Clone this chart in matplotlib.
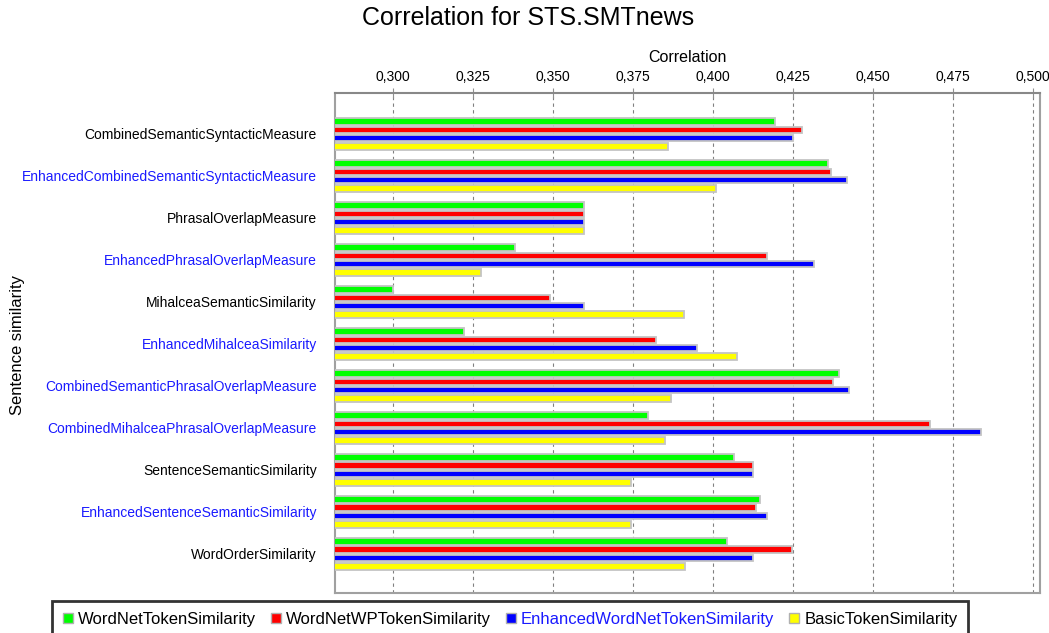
import matplotlib.pyplot as plt
import numpy as np
from matplotlib.patches import Patch
from matplotlib.ticker import FuncFormatter, MultipleLocator

plt.rcParams["font.family"] = ["Liberation Sans", "DejaVu Sans"]

measures = [
    "CombinedSemanticSyntacticMeasure",
    "EnhancedCombinedSemanticSyntacticMeasure",
    "PhrasalOverlapMeasure",
    "EnhancedPhrasalOverlapMeasure",
    "MihalceaSemanticSimilarity",
    "EnhancedMihalceaSimilarity",
    "CombinedSemanticPhrasalOverlapMeasure",
    "CombinedMihalceaPhrasalOverlapMeasure",
    "SentenceSemanticSimilarity",
    "EnhancedSentenceSemanticSimilarity",
    "WordOrderSimilarity",
]
highlighted = [False, True, False, True, False, True, True, True, False, True, False]

series_names = [
    "WordNetTokenSimilarity",
    "WordNetWPTokenSimilarity",
    "EnhancedWordNetTokenSimilarity",
    "BasicTokenSimilarity",
]
series_colors = ["#00ff00", "#ff0000", "#0000ff", "#ffff00"]

wordnet = [0.4194, 0.4361, 0.3598, 0.3380, 0.3000, 0.3222, 0.4393, 0.3796, 0.4066, 0.4146, 0.4043]
wordnet_wp = [0.4279, 0.4368, 0.3598, 0.4170, 0.3492, 0.3821, 0.4374, 0.4677, 0.4124, 0.4134, 0.4248]
enhanced_wordnet = [0.4250, 0.4419, 0.3598, 0.4317, 0.3598, 0.3951, 0.4424, 0.4839, 0.4125, 0.4170, 0.4126]
basic = [0.3859, 0.4011, 0.3598, 0.3274, 0.3910, 0.4076, 0.3870, 0.3850, 0.3743, 0.3743, 0.3912]
series = [wordnet, wordnet_wp, enhanced_wordnet, basic]

blue_text = "#1a1aff"

fig = plt.figure(figsize=(10.49, 6.33), dpi=100)
ax = fig.add_axes([335 / 1049, 40 / 633, 705 / 1049, 500 / 633])

y = np.arange(len(measures))
slot = 0.2
for k, (vals, color) in enumerate(zip(series, series_colors)):
    ax.barh(y + (k - 1.5) * slot, vals, height=0.155, color=color,
            edgecolor="#c4c4c4", linewidth=1.3, zorder=3)

ax.set_xlim(0.2819, 0.5022)
ax.set_ylim(10.93, -0.976)

ax.xaxis.set_major_locator(MultipleLocator(0.025))
ax.xaxis.set_major_formatter(FuncFormatter(lambda v, _: f"{v:.3f}".replace(".", ",")))
ax.xaxis.tick_top()
ax.xaxis.set_label_position("top")
ax.tick_params(axis="x", direction="inout", length=7, color="#909090",
               labelsize=10, pad=3)
ax.set_xlabel("Correlation", fontsize=11.5, labelpad=6)
ax.grid(axis="x", color="#808080", linestyle=(0, (3, 3)), linewidth=0.8, zorder=0)
ax.set_axisbelow(True)

ax.set_yticks(y)
ax.set_yticklabels(measures, fontsize=10)
ax.tick_params(axis="y", length=0, pad=13)
for lbl, hl in zip(ax.get_yticklabels(), highlighted):
    if hl:
        lbl.set_color(blue_text)

for side in ["left", "right", "bottom", "top"]:
    ax.spines[side].set_color("#a0a0a0")
    ax.spines[side].set_linewidth(1.5)
ax.spines["top"].set_color("#888888")

fig.text(18 / 1049, 1 - 345 / 633, "Sentence similarity", rotation=90,
         ha="center", va="center", fontsize=12)
fig.suptitle("Correlation for STS.SMTnews", x=528 / 1049,
             y=1 - 18 / 633, fontsize=18, va="center")

handles = [Patch(facecolor=c, edgecolor="#b0b0b0", linewidth=1) for c in series_colors]
leg = fig.legend(handles, series_names, loc="upper left",
                 bbox_to_anchor=(52 / 1049, 1 - 601 / 633), ncol=4, fontsize=12,
                 frameon=True, fancybox=False, edgecolor="black",
                 handlelength=0.6, handleheight=0.6, handletextpad=0.3,
                 columnspacing=0.9, borderpad=0.65, borderaxespad=0)
leg.get_frame().set_linewidth(2)
leg.get_texts()[2].set_color(blue_text)

fig.savefig("out.png", dpi=100)
